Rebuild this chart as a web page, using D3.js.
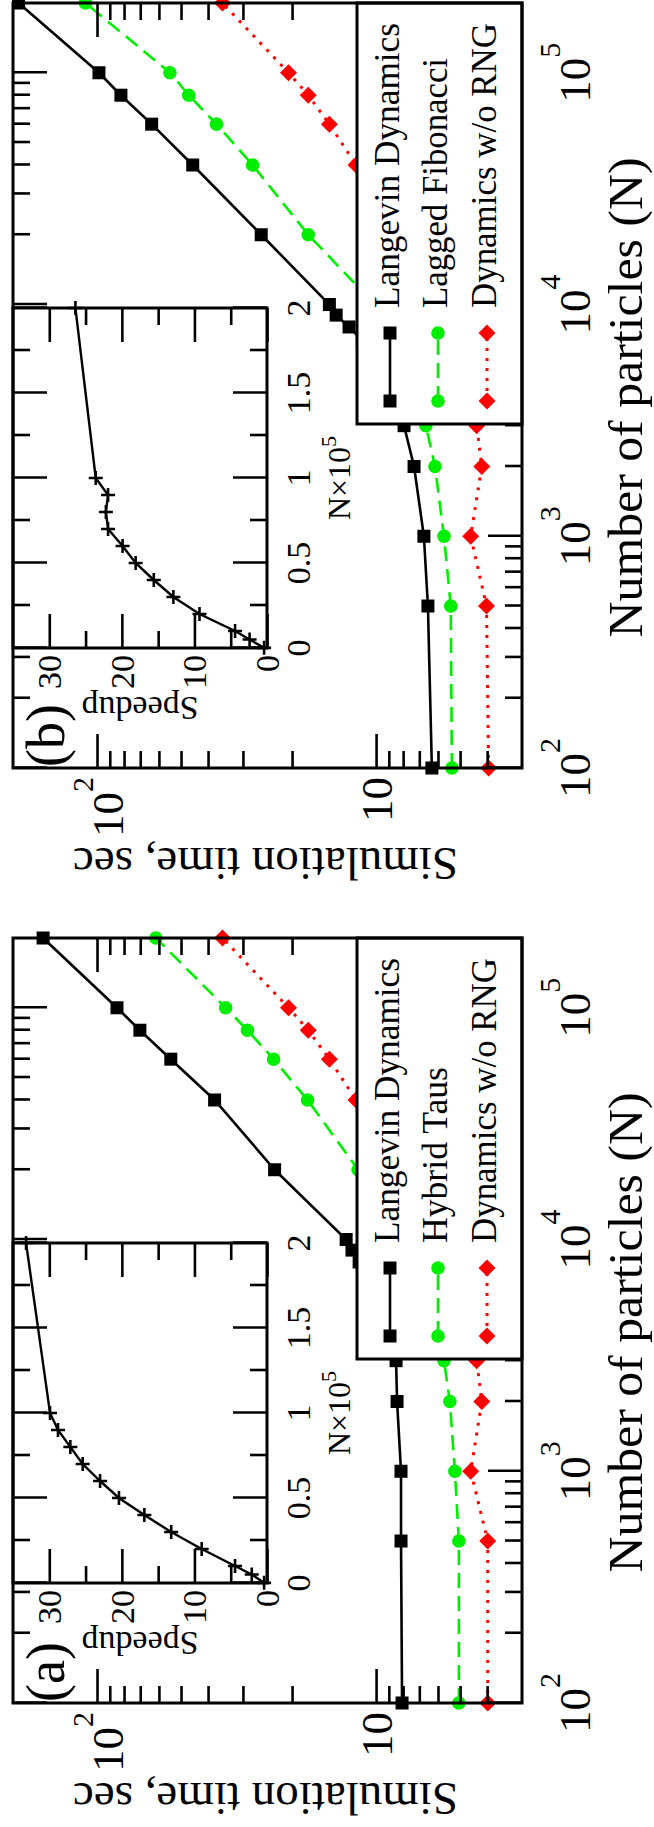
<!DOCTYPE html>
<html><head><meta charset="utf-8">
<script src="https://cdn.jsdelivr.net/npm/d3@7"></script>
<style>
body{margin:0;background:#fff}svg{display:block}
svg text{font-family:"Liberation Serif","Tinos","Times New Roman","Nimbus Roman",serif;}
</style>
</head><body>
<svg id="c" width="654" height="1827"></svg>
<script>
// ---------------- data ----------------
const nParticles = [100,500,1000,2000,3000,4000,5000,6000,7000,8000,9000,10000,20000,40000,60000,80000,100000,200000];
// panel (a)
const langevinA = [8.07,8.14,8.14,8.41,8.48,9.0,9.6,10.2,10.8,11.5,12.2,12.8,23.1,37.9,54.4,70.2,84.8,156];
const hybridTaus = [5.05,5.05,5.22,5.44,5.71,6.0,6.3,6.6,6.9,7.2,7.5,7.8,11.6,17.6,23.3,28.9,34.6,61.5];
const noRngA = [3.98,3.98,4.58,4.18,4.36,4.5,4.7,4.9,5.1,5.3,5.5,5.7,7.8,11.8,14.7,17.5,20.6,35.5];
// panel (b)
const langevinB = [6.31,6.52,6.74,7.31,7.94,8.7,9.5,10.3,11.2,12.5,13.9,14.7,25.8,45.4,63.7,82.1,98.4,191];
const laggedFib = [5.35,5.40,5.71,6.15,6.63,7.1,7.6,8.1,8.6,9.1,9.6,10.1,17.5,27.7,37.3,46.9,54.8,110];
const noRngB = [3.95,4.02,4.58,4.18,4.36,4.5,4.7,4.9,5.1,5.3,5.5,5.7,7.8,11.8,14.7,17.5,20.6,35.5];
// insets: N x 10^5 vs speedup
const insetN = [0.001,0.05,0.1,0.2,0.3,0.4,0.5,0.6,0.7,0.8,0.9,1.0,2.0];
const speedupA = [0.4,2.1,4.4,9.0,13.2,16.9,20.4,23.0,25.4,27.1,28.8,29.9,33.2];
const speedupB = [0.4,2.4,4.4,9.3,12.9,15.6,18.1,19.9,21.9,22.2,21.9,23.6,26.4];
// ticks / labels
const xMajor = [100,1000,10000,100000];
const xMajorExp = ["2","3","4","5"];
const yMajor = [10,100];
const yMajorExp = ["","2"];
const insetXMajor = [0,0.5,1,1.5,2];
const insetXLabels = ["0","0.5","1","1.5","2"];
const insetXMinor = [0.25,0.75,1.25,1.75];
const insetYMajor = [0,10,20,30];
const insetYMinor = [5,15,25];
const namesA = ["Langevin Dynamics","Hybrid Taus","Dynamics w/o RNG"];
const namesB = ["Langevin Dynamics","Lagged Fibonacci","Dynamics w/o RNG"];
const nameLenA = [285,176,285];
const nameLenB = [285,250,285];

// ---------------- drawing ----------------
const W = 1827;
const svg = d3.select("#c");
svg.append("rect").attr("width",654).attr("height",1827).attr("fill","#fff");
const root = svg.append("g").attr("transform",`translate(0,${W}) rotate(-90)`);

const styles = [
  {shape:"square", color:"#000000", dash:null, width:2.6},
  {shape:"circle", color:"#00ee00", dash:"15,8", width:2.6},
  {shape:"diamond", color:"#ff0000", dash:"3,7", width:3}
];

function markerPath(shape){
  if(shape==="square") return "M-6.5,-6.5H6.5V6.5H-6.5Z";
  if(shape==="diamond") return "M0,-8.5L8.5,0L0,8.5L-8.5,0Z";
  return d3.symbol(d3.symbolCircle, Math.PI*6.8*6.8)();
}

function tickAxis(g, axisFn, scale, vals, len, tr){
  const a = axisFn(scale).tickValues(vals).tickSize(len).tickFormat("");
  const s = g.append("g").attr("transform",tr).call(a);
  s.select(".domain").remove();
  s.selectAll("text").remove();
  s.selectAll("line").attr("stroke","#000").attr("stroke-width",2.6);
}

function minorLog(lo, hi){
  const out=[];
  for(let d=lo; d<hi; d*=10) for(let k=2;k<=9;k++){ const v=k*d; if(v<hi) out.push(v); }
  return out;
}

function drawPanel(off, tag, names, nameLen, series, speedup){
  const g = root.append("g").attr("transform",`translate(${off},0)`);
  const X0=124, X1=889, Y0=13, Y1=522;
  const x = d3.scaleLog().domain([100,2e5]).range([X0,X1]);
  const y = d3.scaleLog().domain([3,200]).range([Y1,Y0]);

  // data
  series.forEach((vals,i)=>{
    const st = styles[i];
    const line = d3.line().x((d,j)=>x(nParticles[j])).y(d=>y(d));
    g.append("path").datum(vals).attr("d",line).attr("fill","none")
      .attr("stroke",st.color).attr("stroke-width",st.width)
      .attr("stroke-dasharray",st.dash);
    g.append("g").selectAll("path").data(vals).join("path")
      .attr("d",markerPath(st.shape))
      .attr("transform",(d,j)=>`translate(${x(nParticles[j])},${y(d)})`)
      .attr("fill",st.color);
  });

  // ticks main
  const xMin = minorLog(100,2e5);
  tickAxis(g,d3.axisBottom,x,xMajor,-34,`translate(0,${Y1})`);
  tickAxis(g,d3.axisBottom,x,xMin,-17,`translate(0,${Y1})`);
  tickAxis(g,d3.axisTop,x,xMajor,-34,`translate(0,${Y0})`);
  tickAxis(g,d3.axisTop,x,xMin,-17,`translate(0,${Y0})`);
  const yMin = minorLog(1,200).filter(v=>v>3);
  tickAxis(g,d3.axisLeft,y,yMajor,-34,`translate(${X0},0)`);
  tickAxis(g,d3.axisLeft,y,yMin,-17,`translate(${X0},0)`);
  tickAxis(g,d3.axisRight,y,yMajor,-34,`translate(${X1},0)`);
  tickAxis(g,d3.axisRight,y,yMin,-17,`translate(${X1},0)`);

  // tick labels
  xMajor.forEach((v,i)=>{
    const t = g.append("text").attr("x",x(v)).attr("y",590)
      .attr("text-anchor","middle").attr("font-size",45);
    t.append("tspan").text("10");
    t.append("tspan").attr("font-size",30).attr("dy",-30).text(xMajorExp[i]);
  });
  yMajor.forEach((v,i)=>{
    const sup = yMajorExp[i];
    const t = g.append("text").attr("x",115).attr("y",y(v)+(sup?26:16))
      .attr("text-anchor","end").attr("font-size",45);
    t.append("tspan").text("10");
    if(sup) t.append("tspan").attr("font-size",30).attr("dy",-30).text(sup);
  });

  // axis titles
  g.append("text").attr("x",(X0+X1)/2-12).attr("y",642).attr("text-anchor","middle")
    .attr("font-size",48).attr("textLength",480).attr("lengthAdjust","spacingAndGlyphs")
    .text("Number of particles (N)");
  g.append("text").attr("transform",`translate(44,${(Y0+Y1)/2-2}) rotate(-90)`)
    .attr("text-anchor","middle").attr("font-size",46)
    .attr("textLength",385).attr("lengthAdjust","spacingAndGlyphs")
    .text("Simulation time, sec");

  // legend
  const L = g.append("g");
  L.append("rect").attr("x",468).attr("y",357).attr("width",X1-468).attr("height",Y1-357)
    .attr("fill","#fff").attr("stroke","#000").attr("stroke-width",3);
  const rowY = [390,438,487];
  names.forEach((nm,i)=>{
    const st = styles[i];
    L.append("line").attr("x1",491).attr("x2",559).attr("y1",rowY[i]).attr("y2",rowY[i])
      .attr("stroke",st.color).attr("stroke-width",st.width).attr("stroke-dasharray",st.dash);
    [491,559].forEach(px=>L.append("path").attr("d",markerPath(st.shape))
      .attr("transform",`translate(${px},${rowY[i]})`).attr("fill",st.color));
    L.append("text").attr("x",584).attr("y",rowY[i]+9).attr("font-size",36)
      .attr("textLength",nameLen[i]).attr("lengthAdjust","spacingAndGlyphs").text(nm);
  });

  // inset
  const IX0=244, IX1=584, IY0=13, IY1=267;
  const ix = d3.scaleLinear().domain([0,2]).range([IX0,IX1]);
  const iy = d3.scaleLinear().domain([0,35]).range([IY1,IY0]);
  const I = g.append("g");
  I.append("rect").attr("x",IX0).attr("y",IY0).attr("width",IX1-IX0).attr("height",IY1-IY0)
    .attr("fill","#fff");
  I.append("path").datum(speedup)
    .attr("d",d3.line().x((d,j)=>ix(insetN[j])).y(d=>iy(d)))
    .attr("fill","none").attr("stroke","#000").attr("stroke-width",2.4);
  I.append("g").selectAll("path").data(speedup).join("path")
    .attr("d","M-7,0H7M0,-7V7")
    .attr("transform",(d,j)=>`translate(${ix(insetN[j])},${iy(d)})`)
    .attr("stroke","#000").attr("stroke-width",2.6).attr("fill","none");
  tickAxis(I,d3.axisBottom,ix,insetXMajor,-34,`translate(0,${IY1})`);
  tickAxis(I,d3.axisBottom,ix,insetXMinor,-17,`translate(0,${IY1})`);
  tickAxis(I,d3.axisTop,ix,insetXMajor,-34,`translate(0,${IY0})`);
  tickAxis(I,d3.axisTop,ix,insetXMinor,-17,`translate(0,${IY0})`);
  tickAxis(I,d3.axisLeft,iy,insetYMajor,-34,`translate(${IX0},0)`);
  tickAxis(I,d3.axisLeft,iy,insetYMinor,-17,`translate(${IX0},0)`);
  tickAxis(I,d3.axisRight,iy,insetYMajor,-34,`translate(${IX1},0)`);
  tickAxis(I,d3.axisRight,iy,insetYMinor,-17,`translate(${IX1},0)`);
  I.append("rect").attr("x",IX0).attr("y",IY0).attr("width",IX1-IX0).attr("height",IY1-IY0)
    .attr("fill","none").attr("stroke","#000").attr("stroke-width",3);
  insetXMajor.forEach((v,i)=>{
    I.append("text").attr("x",ix(v)).attr("y",310).attr("text-anchor","middle")
      .attr("font-size",34).text(insetXLabels[i]);
  });
  insetYMajor.forEach(v=>{
    I.append("text").attr("x",237).attr("y",iy(v)+12).attr("text-anchor","end")
      .attr("font-size",34).text(String(v));
  });
  const nl = I.append("text").attr("x",(IX0+IX1)/2).attr("y",350).attr("text-anchor","middle")
    .attr("font-size",32);
  nl.append("tspan").text("N\u00d710");
  nl.append("tspan").attr("font-size",22).attr("dy",-14).text("5");
  I.append("text").attr("transform",`translate(195,${(IY0+IY1)/2}) rotate(-90)`)
    .attr("text-anchor","middle").attr("font-size",34).text("Speedup");

  // panel tag
  g.append("text").attr("x",125).attr("y",64).attr("font-size",54).text(tag);

  // frame
  g.append("rect").attr("x",X0).attr("y",Y0).attr("width",X1-X0).attr("height",Y1-Y0)
    .attr("fill","none").attr("stroke","#000").attr("stroke-width",3);
}

drawPanel(0,"(a)",namesA,nameLenA,[langevinA,hybridTaus,noRngA],speedupA);
drawPanel(935,"(b)",namesB,nameLenB,[langevinB,laggedFib,noRngB],speedupB);
</script>
</body></html>
